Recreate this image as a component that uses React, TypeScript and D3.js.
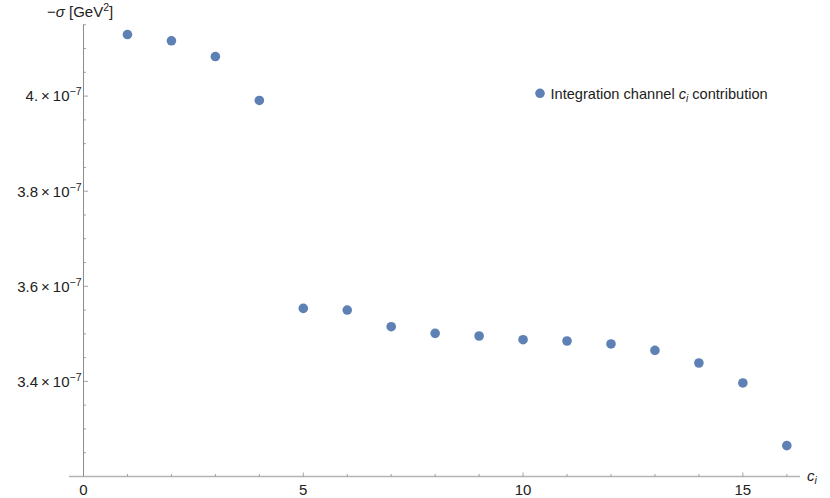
import React, { useEffect, useRef } from "react";
import * as d3 from "d3";

// channel index c_i
const channels = [1, 2, 3, 4, 5, 6, 7, 8, 9, 10, 11, 12, 13, 14, 15, 16];
// -sigma contribution, in units of 1e-7 GeV^2
const sigmaValues = [
  4.1295, 4.1163, 4.0832, 3.9908, 3.5535, 3.5501, 3.515, 3.501, 3.4955, 3.4877, 3.485, 3.4787,
  3.4652, 3.4387, 3.3967, 3.2649,
];
const xMajorTicks = [0, 5, 10, 15];
const yMajorTicks = [3.4, 3.6, 3.8, 4.0];
const yTickText = ["3.4", "3.6", "3.8", "4."];
const legendLabel = "Integration channel";

const WIDTH = 830;
const HEIGHT = 498;
const FONT = "'Liberation Sans', Arial, sans-serif";
const POINT_COLOR = "#5e81b5";

export default function App() {
  const svgRef = useRef<SVGSVGElement | null>(null);

  useEffect(() => {
    if (!svgRef.current) return;
    const svg = d3.select(svgRef.current);
    svg.selectAll("*").remove();

    const x = d3.scaleLinear().domain([-0.33, 16.3]).range([69, 800]);
    const y = d3.scaleLinear().domain([3.2, 4.151]).range([476.5, 24.3]);

    const x0 = x(0);
    const yBase = y(3.2);

    // x axis
    svg.append("line")
      .attr("x1", x.range()[0]).attr("x2", x.range()[1])
      .attr("y1", yBase).attr("y2", yBase)
      .attr("stroke", "#b3b3b3").attr("stroke-width", 1.6);

    // y axis
    svg.append("line")
      .attr("x1", x0).attr("x2", x0)
      .attr("y1", y.range()[1]).attr("y2", yBase)
      .attr("stroke", "#8c8c8c").attr("stroke-width", 1);

    // x ticks (every integer, inward)
    const xTicks = d3.range(1, 17);
    svg.append("g").selectAll("line")
      .data(xTicks)
      .join("line")
      .attr("x1", (d) => x(d)).attr("x2", (d) => x(d))
      .attr("y1", yBase)
      .attr("y2", (d) => yBase - (d % 5 === 0 ? 4 : 2.5))
      .attr("stroke", "#8c8c8c").attr("stroke-width", 0.8);

    svg.append("g").selectAll("text")
      .data(xMajorTicks)
      .join("text")
      .attr("x", (d) => x(d))
      .attr("y", 495)
      .attr("text-anchor", "middle")
      .attr("font-family", FONT)
      .attr("font-size", 15)
      .attr("fill", "#222")
      .text((d) => d);

    // y ticks (minor every 0.05)
    const yTicks = d3.range(3.25, 4.151, 0.05);
    svg.append("g").selectAll("line")
      .data(yTicks)
      .join("line")
      .attr("x1", x0)
      .attr("x2", (d) => x0 + (yMajorTicks.some((m) => Math.abs(m - d) < 1e-6) ? 4.5 : 2.5))
      .attr("y1", (d) => y(d)).attr("y2", (d) => y(d))
      .attr("stroke", "#8c8c8c").attr("stroke-width", 0.8);

    const yLabels = svg.append("g").selectAll("text")
      .data(yMajorTicks)
      .join("text")
      .attr("x", x0 - 2)
      .attr("y", (d) => y(d) + 5.3)
      .attr("text-anchor", "end")
      .attr("font-family", FONT)
      .attr("font-size", 15)
      .attr("fill", "#222");
    yLabels.append("tspan").text((d, i) => `${yTickText[i]}\u2009×\u200910`);
    yLabels.append("tspan")
      .attr("dy", -6)
      .attr("font-size", 10.5)
      .text("\u22127");

    // axis labels
    const yTitle = svg.append("text")
      .attr("x", 47)
      .attr("y", 17)
      .attr("font-family", FONT)
      .attr("font-size", 15)
      .attr("fill", "#222");
    yTitle.append("tspan").text("\u2212");
    yTitle.append("tspan").attr("font-style", "italic").text("σ");
    yTitle.append("tspan").text(" [GeV");
    yTitle.append("tspan").attr("dy", -6).attr("font-size", 10.5).text("2");
    yTitle.append("tspan").attr("dy", 6).text("]");

    const xTitle = svg.append("text")
      .attr("x", 807)
      .attr("y", 481)
      .attr("font-family", FONT)
      .attr("font-size", 15)
      .attr("fill", "#222");
    xTitle.append("tspan").attr("font-style", "italic").text("c");
    xTitle.append("tspan").attr("font-style", "italic").attr("dy", 3).attr("font-size", 10.5).text("i");

    // points
    svg.append("g").selectAll("circle")
      .data(channels)
      .join("circle")
      .attr("cx", (d) => x(d))
      .attr("cy", (d, i) => y(sigmaValues[i]))
      .attr("r", 4.8)
      .attr("fill", POINT_COLOR);

    // legend
    const legend = svg.append("g").attr("transform", "translate(540,93.3)");
    legend.append("circle").attr("r", 4.8).attr("fill", POINT_COLOR);
    const lt = legend.append("text")
      .attr("x", 10.5)
      .attr("y", 5.2)
      .attr("font-family", FONT)
      .attr("font-size", 14.6)
      .attr("fill", "#222");
    lt.append("tspan").text(legendLabel + " ");
    lt.append("tspan").attr("font-style", "italic").text("c");
    lt.append("tspan").attr("font-style", "italic").attr("dy", 3).attr("font-size", 10).text("i");
    lt.append("tspan").attr("dy", -3).text(" contribution");
  }, []);

  return (
    <svg
      ref={svgRef}
      width={WIDTH}
      height={HEIGHT}
      style={{ position: "absolute", left: 0, top: 0, background: "#fff" }}
    />
  );
}
